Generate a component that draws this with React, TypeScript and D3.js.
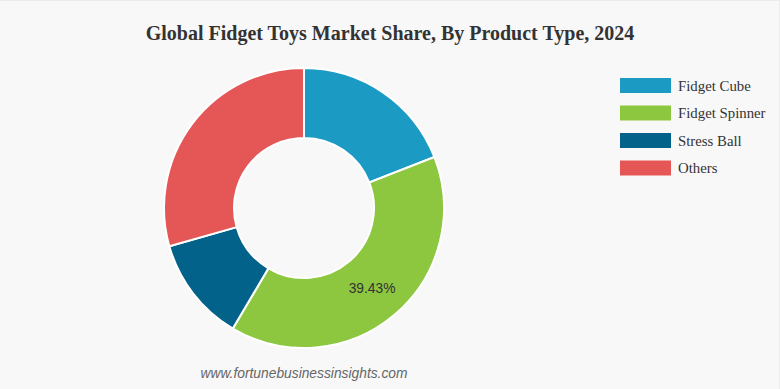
import * as d3 from "d3";

const categories = ["Fidget Cube", "Fidget Spinner", "Stress Ball", "Others"];
const shares = [19.06, 39.43, 12.1, 29.41];
const colors = ["#1b9bc3", "#8dc63f", "#03628a", "#e55656"];
const shownLabels = [false, true, false, false];

export default function App() {
  const width = 780;
  const height = 389;
  const cx = 304;
  const cy = 208;
  const outerR = 140;
  const innerR = 70;

  const data = categories.map((c, i) => ({ name: c, value: shares[i], color: colors[i], show: shownLabels[i] }));

  const pie = d3.pie<any>().sort(null).value(d => d.value);
  const arcs = pie(data);
  const arc = d3.arc<any>().innerRadius(innerR).outerRadius(outerR);
  const labelArc = d3.arc<any>().innerRadius(105).outerRadius(105);

  return (
    <div style={{ position: "fixed", left: 0, top: 0, width, height, overflow: "hidden" }}>
      <svg width={width} height={height} style={{ display: "block", background: "#f8f8f8" }}>
        <line x1={0} x2={width} y1={0.5} y2={0.5} stroke="#ececec" />
        <line x1={width - 0.5} x2={width - 0.5} y1={0} y2={height} stroke="#ececec" />
        <text x={390} y={40} textAnchor="middle" fontFamily="'Liberation Serif', 'Times New Roman', serif"
          fontWeight="bold" fontSize={20} fill="#333">
          Global Fidget Toys Market Share, By Product Type, 2024
        </text>
        <g transform={`translate(${cx},${cy})`}>
          {arcs.map((a, i) => (
            <path key={i} d={arc(a) as string} fill={a.data.color} stroke="#fff" strokeWidth={2} />
          ))}
          {arcs.filter(a => a.data.show).map((a, i) => {
            const [x, y] = labelArc.centroid(a);
            return (
              <text key={i} x={x} y={y} textAnchor="middle" dy="0.35em"
                fontFamily="'Liberation Sans', Arial, sans-serif" fontSize={13.8} fill="#333">
                {a.data.value.toFixed(2)}%
              </text>
            );
          })}
        </g>
        <g transform="translate(620,78)">
          {data.map((d, i) => (
            <g key={i} transform={`translate(0,${i * 27.5})`}>
              <rect width={51} height={15} fill={d.color} />
              <text x={58} y={12.5} fontFamily="'Liberation Serif', 'Times New Roman', serif" fontSize={14.8} fill="#333">
                {d.name}
              </text>
            </g>
          ))}
        </g>
        <text x={304} y={378} textAnchor="middle" fontFamily="'Liberation Sans', Arial, sans-serif"
          fontStyle="italic" fontSize={13.8} fill="#666">
          www.fortunebusinessinsights.com
        </text>
      </svg>
    </div>
  );
}
